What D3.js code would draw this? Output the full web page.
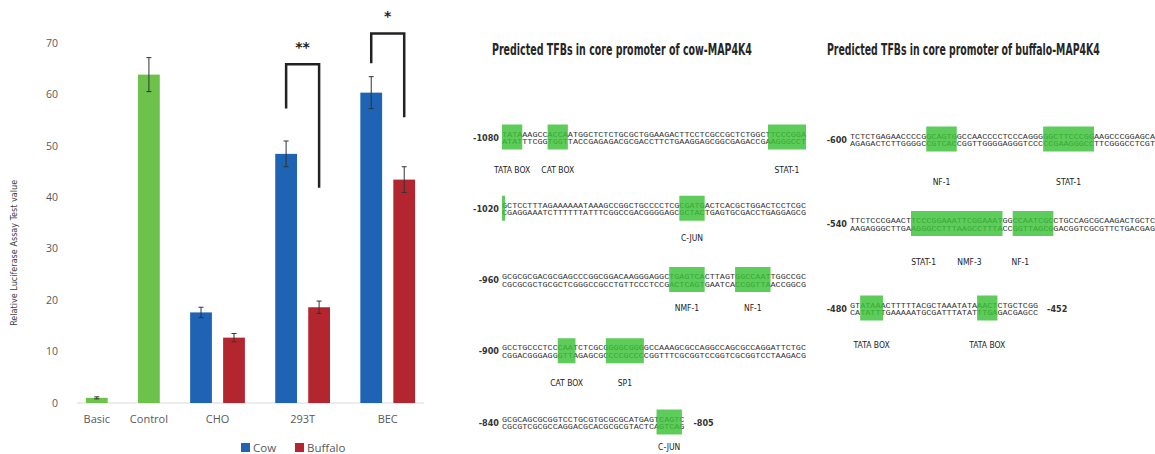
<!DOCTYPE html>
<html>
<head>
<meta charset="utf-8">
<script src="https://cdn.jsdelivr.net/npm/d3@7/dist/d3.min.js"></script>
<style>
  html, body { margin: 0; padding: 0; background: #fff; }
  svg { display: block; }
</style>
</head>
<body>
<svg id="chart" width="1155" height="454"></svg>
<script>
// ---------------- Data: bar chart ----------------
const categories = ["Basic", "Control", "CHO", "293T", "BEC"];
const seriesNames = ["Cow", "Buffalo"];
const controlCategories = ["Basic", "Control"];
const controlValues = [1.0, 63.8];
const controlErrors = [0.2, 3.3];
const cellCategories = ["CHO", "293T", "BEC"];
const cowValues = [17.6, 48.4, 60.3];
const cowErrors = [1.0, 2.5, 3.1];
const buffaloValues = [12.7, 18.6, 43.4];
const buffaloErrors = [0.8, 1.2, 2.5];
const yTicks = [0, 10, 20, 30, 40, 50, 60, 70];
const yTitle = "Relative Luciferase Assay Test value";
// significance brackets (values in y units)
const sigCategories = ["293T", "BEC"];
const sigLabels = ["**", "*"];
const sigTop = [65.8, 71.8];
const sigCowEnd = [57.2, 66.0];
const sigBuffaloEnd = [41.8, 55.5];

// ---------------- Data: promoter panels ----------------
const cowTitle = "Predicted TFBs in core promoter of cow-MAP4K4";
const buffaloTitle = "Predicted TFBs in core promoter of buffalo-MAP4K4";
const cowRowLabels = ["-1080", "-1020", "-960", "-900", "-840"];
const cowRowEnds = ["", "", "", "", "-805"];
const cowSeqs = [
  "TATAAAGCCACCAATGGCTCTCTGCGCTGGAAGACTTCCTCGCCGCTCTGGCTTCCCGGA",
  "GCTCCTTTAGAAAAAATAAAGCCGGCTGCCCCTCGCGATGACTCACGCTGGACTCCTCGC",
  "GCGCGCGACGCGAGCCCGGCGGACAAGGGAGGCTGAGTCACTTAGTGGCCAATTGGCCGC",
  "GCCTGCCCTCCCAATCTCGCGGGGCGGGGCCAAAGCGCCAGGCCAGCGCCAGGATTCTGC",
  "GCGCAGCGCGGTCCTGCGTGCGCGCATGAGTCAGTC"
];
const cowSites = [
  [{name: "TATA BOX", s: 0, e: 4}, {name: "CAT BOX", s: 9, e: 13}, {name: "STAT-1", s: 52.5, e: 60}],
  [{name: "", s: 0, e: 0.6}, {name: "C-JUN", s: 35, e: 40}],
  [{name: "NMF-1", s: 33, e: 40}, {name: "NF-1", s: 46, e: 53}],
  [{name: "CAT BOX", s: 11, e: 14.5}, {name: "SP1", s: 20.5, e: 28}],
  [{name: "C-JUN", s: 30.5, e: 35.5}]
];
const buffaloRowLabels = ["-600", "-540", "-480"];
const buffaloRowEnds = ["", "", "-452"];
const buffaloSeqs = [
  "TCTCTGAGAACCCCGGCAGTGGCCAACCCCTCCCAGGGGGCTTCCCGGAAGCCCGGAGCA",
  "TTCTCCCGAACTTCCCGGAAATTCGGAAATGGCCAATCGCCTGCCAGCGCAAGACTGCTC",
  "GTATAAACTTTTTACGCTAAATATAAACTCTGCTCGG"
];
const buffaloSites = [
  [{name: "NF-1", s: 15, e: 21}, {name: "STAT-1", s: 38, e: 48}],
  [{name: "STAT-1", s: 12, e: 30}, {name: "NF-1", s: 32, e: 40}],
  [{name: "TATA BOX", s: 2, e: 6.5}, {name: "TATA BOX", s: 25, e: 29}]
];
const buffaloRow2Labels = [{name: "STAT-1", at: 14.5}, {name: "NMF-3", at: 23.5}, {name: "NF-1", at: 33.5}];

// ---------------- Style ----------------
const GREEN = "#6cc24a";
const BLUE = "#1f63b4";
const RED = "#b3262f";
const BOX = "#39c136";
const GROUP_GAP = 0.58;
const NARROW = "'Liberation Sans Narrow', 'DejaVu Sans Condensed', 'Liberation Sans', sans-serif";

const svg = d3.select("#chart");

// ---------------- Bar chart ----------------
const groups = [
  {cat: "Basic", bars: [{series: "ctrl", v: controlValues[0], err: controlErrors[0], color: GREEN}]},
  {cat: "Control", bars: [{series: "ctrl", v: controlValues[1], err: controlErrors[1], color: GREEN}]}
];
cellCategories.forEach((c, i) => {
  groups.push({cat: c, bars: [
    {series: "Cow", v: cowValues[i], err: cowErrors[i], color: BLUE},
    {series: "Buffalo", v: buffaloValues[i], err: buffaloErrors[i], color: RED}
  ]});
});
let u = 0;
groups.forEach(g => {
  g.bars.forEach(b => { b.u = u; u += 1; });
  u += GROUP_GAP;
  g.center = d3.mean(g.bars, b => b.u);
});
const allBars = groups.flatMap(g => g.bars.map(b => Object.assign(b, {cat: g.cat})));
const lastU = d3.max(allBars, b => b.u);

const x = d3.scaleLinear().domain([-0.6, lastU + 0.6]).range([77, 424]);
const y = d3.scaleLinear().domain([0, 70]).range([403, 42.7]);
const bw = x(0.66) - x(0);

// x baseline
svg.append("line")
  .attr("x1", x(-0.6)).attr("x2", x(lastU + 0.6))
  .attr("y1", y(0)).attr("y2", y(0))
  .attr("stroke", "#d9d9d9").attr("stroke-width", 1);

// y axis
const yAxis = svg.append("g").attr("transform", "translate(66,0)")
  .call(d3.axisLeft(y).tickValues(yTicks).tickSize(0).tickPadding(8));
yAxis.select(".domain").remove();
yAxis.selectAll("text")
  .attr("fill", "#595959").style("font-family", "'Open Sans', sans-serif").style("font-size", "10.5px");

// y title
svg.append("text")
  .attr("transform", `translate(17,${(y(0) + y(70)) / 2 + 30}) rotate(-90)`)
  .attr("text-anchor", "middle")
  .style("font-family", NARROW).style("font-size", "9px").attr("fill", "#404040")
  .text(yTitle);

// bars
svg.append("g").selectAll("rect").data(allBars).join("rect")
  .attr("x", d => x(d.u) - bw / 2)
  .attr("width", bw)
  .attr("y", d => y(d.v))
  .attr("height", d => y(0) - y(d.v))
  .attr("fill", d => d.color);

// error bars
const eb = svg.append("g").attr("stroke", "#333").attr("stroke-width", 1);
allBars.forEach(d => {
  eb.append("line").attr("x1", x(d.u)).attr("x2", x(d.u))
    .attr("y1", y(d.v + d.err)).attr("y2", y(d.v - d.err));
  [d.v + d.err, d.v - d.err].forEach(vv => {
    eb.append("line").attr("x1", x(d.u) - 2.5).attr("x2", x(d.u) + 2.5)
      .attr("y1", y(vv)).attr("y2", y(vv));
  });
});

// category labels
svg.append("g").selectAll("text").data(groups).join("text")
  .attr("x", d => x(d.center)).attr("y", y(0) + 20)
  .attr("text-anchor", "middle")
  .style("font-family", "'Open Sans', sans-serif").style("font-size", "11px")
  .attr("fill", "#595959")
  .text(d => d.cat);

// significance brackets
sigCategories.forEach((c, i) => {
  const g = groups.find(gg => gg.cat === c);
  const xl = x(g.bars[0].u), xr = x(g.bars[1].u);
  svg.append("path")
    .attr("d", `M${xl},${y(sigCowEnd[i])}V${y(sigTop[i])}H${xr}V${y(sigBuffaloEnd[i])}`)
    .attr("fill", "none").attr("stroke", "#222").attr("stroke-width", 2.5);
  svg.append("text")
    .attr("x", (xl + xr) / 2).attr("y", y(sigTop[i]) - 12)
    .attr("text-anchor", "middle")
    .style("font-family", "'DejaVu Sans', sans-serif").style("font-weight", "bold").style("font-size", "14px")
    .attr("fill", "#222")
    .text(sigLabels[i]);
});

// legend
const legend = svg.append("g").attr("transform", "translate(241,443)");
const legendColors = [BLUE, RED];
const legendX = [0, 54];
seriesNames.forEach((s, i) => {
  legend.append("rect").attr("x", legendX[i]).attr("y", 0).attr("width", 9).attr("height", 9).attr("fill", legendColors[i]);
  legend.append("text").attr("x", legendX[i] + 12).attr("y", 9)
    .style("font-family", "'Open Sans', sans-serif").style("font-size", "11.5px").attr("fill", "#595959")
    .text(s);
});

// ---------------- Promoter panels ----------------
const comp = {A: "T", T: "A", C: "G", G: "C"};
function drawPanel(opts) {
  const {title, titleX, titleW, titleY, x0, x60, rowY0, rowY1, labels, ends, seqs, sites, labelOffsets, customLabels} = opts;
  const px = d3.scaleLinear().domain([0, 60]).range([x0, x60]);
  const py = d3.scaleLinear().domain([0, seqs.length - 1]).range([rowY0, rowY1]);
  const g = svg.append("g");
  // title: natural glyphs, horizontally scaled to the target width
  const tg = g.append("g");
  const tt = tg.append("text").attr("x", 0).attr("y", 0)
    .style("font-family", NARROW).style("font-weight", "bold").style("font-size", "15.5px")
    .attr("fill", "#262626").text(title);
  const natural = tt.node().getComputedTextLength();
  tg.attr("transform", `translate(${titleX},${titleY}) scale(${titleW / natural},1)`);
  seqs.forEach((seq, r) => {
    const cy = py(r);
    const w = px(seq.length) - px(0);
    // row label
    g.append("text").attr("x", px(0) - 3).attr("y", cy + 3.5).attr("text-anchor", "end")
      .style("font-family", NARROW).style("font-weight", "bold").style("font-size", "9px")
      .attr("fill", "#333").text(labels[r]);
    // sequence strands
    g.append("text").attr("x", px(0)).attr("y", cy - 0.5)
      .attr("textLength", w).attr("lengthAdjust", "spacingAndGlyphs")
      .style("font-family", "'Liberation Mono', monospace").style("font-size", "7.5px")
      .attr("fill", "#333").text(seq);
    g.append("text").attr("x", px(0)).attr("y", cy + 7)
      .attr("textLength", w).attr("lengthAdjust", "spacingAndGlyphs")
      .style("font-family", "'Liberation Mono', monospace").style("font-size", "7.5px")
      .attr("fill", "#333").text(seq.split("").map(ch => comp[ch]).join(""));
    if (ends[r]) {
      g.append("text").attr("x", px(seq.length) + 9).attr("y", cy + 3.5)
        .style("font-family", NARROW).style("font-weight", "bold").style("font-size", "9px")
        .attr("fill", "#333").text(ends[r]);
    }
    // TFB boxes
    const rs = sites[r];
    g.selectAll(null).data(rs).join("rect")
      .attr("x", d => px(d.s)).attr("width", d => px(d.e) - px(d.s))
      .attr("y", cy - 12.5).attr("height", 25)
      .attr("fill", BOX).attr("opacity", 0.82);
    const lab = (customLabels && customLabels[r]) ? customLabels[r].map(l => ({name: l.name, c: l.at}))
      : rs.filter(d => d.name).map(d => ({name: d.name, c: (d.s + d.e) / 2}));
    g.selectAll(null).data(lab).join("text")
      .attr("x", d => px(d.c)).attr("y", cy + labelOffsets[r])
      .attr("text-anchor", "middle")
      .style("font-family", NARROW).style("font-size", "8.5px")
      .attr("fill", "#222").text(d => d.name);
  });
}

drawPanel({
  title: cowTitle, titleX: 492, titleW: 260, titleY: 55,
  x0: 502, x60: 806, rowY0: 137, rowY1: 422,
  labels: cowRowLabels, ends: cowRowEnds, seqs: cowSeqs, sites: cowSites,
  labelOffsets: [36, 33, 31, 35, 28]
});
drawPanel({
  title: buffaloTitle, titleX: 827, titleW: 273, titleY: 55,
  x0: 850, x60: 1155, rowY0: 139, rowY1: 308,
  labels: buffaloRowLabels, ends: buffaloRowEnds, seqs: buffaloSeqs, sites: buffaloSites,
  labelOffsets: [46, 41, 40],
  customLabels: {1: buffaloRow2Labels}
});
</script>
</body>
</html>
